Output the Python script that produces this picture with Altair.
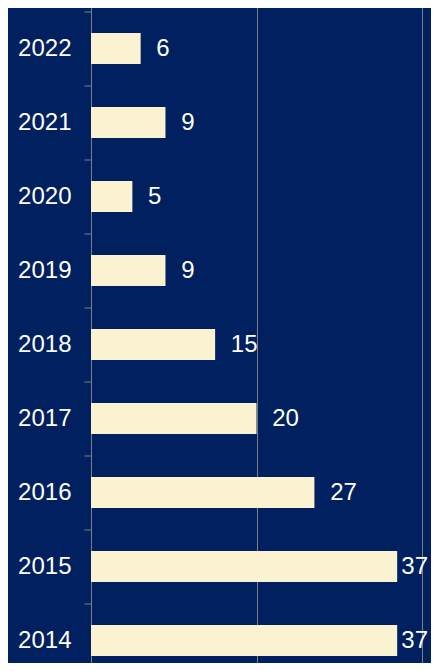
import altair as alt
import pandas as pd

years = ["2022", "2021", "2020", "2019", "2018", "2017", "2016", "2015", "2014"]
counts = [6, 9, 5, 9, 15, 20, 27, 37, 37]
grid_values = [0, 20, 40]

df = pd.DataFrame({"year": years, "count": counts})

FONT = "Liberation Sans"
NAVY = "#002060"
BAR = "#FAF2D0"
GRAY = "#7F7F7F"

y_axis = alt.Axis(
    title=None,
    labelColor="white",
    labelFont=FONT,
    labelFontSize=24,
    labelPadding=13,
    domainColor=GRAY,
    tickColor=GRAY,
    tickSize=7,
    tickOffset=-37,
    labelOffset=37,
    grid=False,
)
y_scale = alt.Scale(range=[0, 666], paddingInner=0.58, paddingOuter=0.29)

x_scale = alt.Scale(domain=[0, 40], nice=False)
x_axis = alt.Axis(
    title=None,
    labels=False,
    ticks=False,
    domain=False,
    grid=True,
    gridColor=GRAY,
    gridWidth=1,
    values=grid_values,
)

bars = alt.Chart(df).mark_bar(color=BAR).encode(
    x=alt.X("count:Q", scale=x_scale, axis=x_axis),
    y=alt.Y("year:N", sort=years, scale=y_scale, axis=y_axis),
)

labels = (
    alt.Chart(df)
    .transform_calculate(lx="min(datum.count + 1.9, 37.5)")
    .mark_text(align="left", baseline="middle", color="white", font=FONT, fontSize=24)
    .encode(
        x=alt.X("lx:Q", scale=x_scale, axis=x_axis),
        y=alt.Y("year:N", sort=years, scale=y_scale, axis=y_axis),
        text="count:Q",
    )
)

chart = (
    alt.layer(bars, labels)
    .properties(
        width=331,
        height=651,
        padding={"left": 83, "top": 3.5, "right": 9, "bottom": 0},
        autosize=alt.AutoSizeParams(type="none"),
        background=NAVY,
    )
    .configure_view(stroke=None)
)

chart.save("out.html", embed_options={"renderer": "svg", "actions": False})
